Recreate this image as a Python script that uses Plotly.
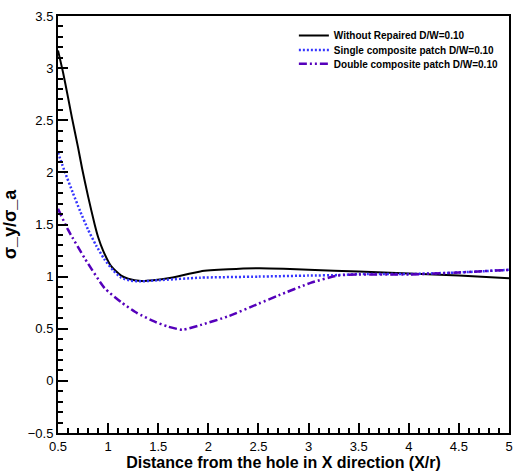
import plotly.graph_objects as go

x_without = [0.5, 0.55, 0.6, 0.64, 0.7, 0.74, 0.8, 0.866, 0.9, 0.95, 1.03, 1.13, 1.2, 1.33, 1.45, 1.63, 1.92, 2.2, 2.5, 2.75, 3.0, 3.5, 4.0, 4.5, 5.0]
y_without = [3.17, 2.96, 2.72, 2.52, 2.24, 2.04, 1.77, 1.5, 1.38, 1.25, 1.10, 1.01, 0.98, 0.958, 0.965, 0.99, 1.05, 1.07, 1.08, 1.075, 1.065, 1.05, 1.03, 1.01, 0.985]

x_single = [0.5, 0.57, 0.65, 0.72, 0.8, 0.88, 0.96, 1.05, 1.13, 1.23, 1.33, 1.5, 1.92, 2.5, 3.0, 3.3, 3.5, 4.0, 4.5, 5.0]
y_single = [2.19, 2.0, 1.8, 1.63, 1.45, 1.3, 1.17, 1.06, 0.99, 0.96, 0.955, 0.965, 0.99, 1.0, 1.01, 1.015, 1.025, 1.025, 1.04, 1.065]

x_double = [0.5, 0.6, 0.77, 0.965, 1.13, 1.29, 1.46, 1.6, 1.74, 1.92, 2.2, 2.5, 2.7, 3.02, 3.29, 3.5, 4.0, 4.5, 5.0]
y_double = [1.65, 1.45, 1.17, 0.89, 0.755, 0.65, 0.57, 0.52, 0.49, 0.535, 0.62, 0.74, 0.82, 0.94, 1.01, 1.02, 1.02, 1.04, 1.065]

names = ["Without Repaired D/W=0.10", "Single composite patch D/W=0.10", "Double composite patch D/W=0.10"]

FONT = "Liberation Sans, Arial, Helvetica"

fig = go.Figure()
fig.add_trace(go.Scatter(x=x_without, y=y_without, mode="lines", name="<b>" + names[0] + "</b>",
                         legend="legend",
                         line=dict(color="black", width=2, shape="spline", smoothing=0.6)))
fig.add_trace(go.Scatter(x=x_single, y=y_single, mode="lines", name="<b>" + names[1] + "</b>",
                         legend="legend2",
                         line=dict(color="#3535ff", width=2.5, dash="2px,2px", shape="spline", smoothing=0.5)))
fig.add_trace(go.Scatter(x=x_double, y=y_double, mode="lines", name="<b>" + names[2] + "</b>",
                         legend="legend3",
                         line=dict(color="#5500bb", width=2.5, dash="8px,3px,2px,3px,2px,3px", shape="spline", smoothing=0.5)))

axis_common = dict(
    showgrid=False, zeroline=False, showline=True, linecolor="black", linewidth=2,
    mirror=True, ticks="inside", ticklen=10, tickwidth=1.5, tickcolor="black",
    tickfont=dict(family=FONT, size=13, color="black"),
    dtick=0.5,
)
fig.update_xaxes(range=[0.5, 5], tick0=0.5,
                 minor=dict(ticks="inside", ticklen=5, tickcolor="black", dtick=0.1, tick0=0.5),
                 title=dict(text="<b>Distance from the hole in X direction (X/r)</b>", standoff=4,
                            font=dict(family=FONT, size=16, color="black")),
                 **axis_common)
fig.update_yaxes(range=[-0.5, 3.5], tick0=-0.5,
                 minor=dict(ticks="inside", ticklen=5, tickcolor="black", dtick=0.1, tick0=-0.5),
                 title=dict(text="<b>σ_y/σ_a</b>", standoff=8,
                            font=dict(family=FONT, size=18, color="black")),
                 **axis_common)

leg = dict(xanchor="left", yanchor="top", bgcolor="rgba(0,0,0,0)",
           font=dict(family=FONT, size=10, color="black"))
fig.update_layout(
    width=518, height=474,
    margin=dict(l=58, r=5, t=16, b=36),
    plot_bgcolor="white", paper_bgcolor="white",
    showlegend=True,
    legend=dict(x=0.523, y=0.988, **leg),
    legend2=dict(x=0.523, y=0.953, **leg),
    legend3=dict(x=0.523, y=0.920, **leg),
)

fig.write_html("out.html")
